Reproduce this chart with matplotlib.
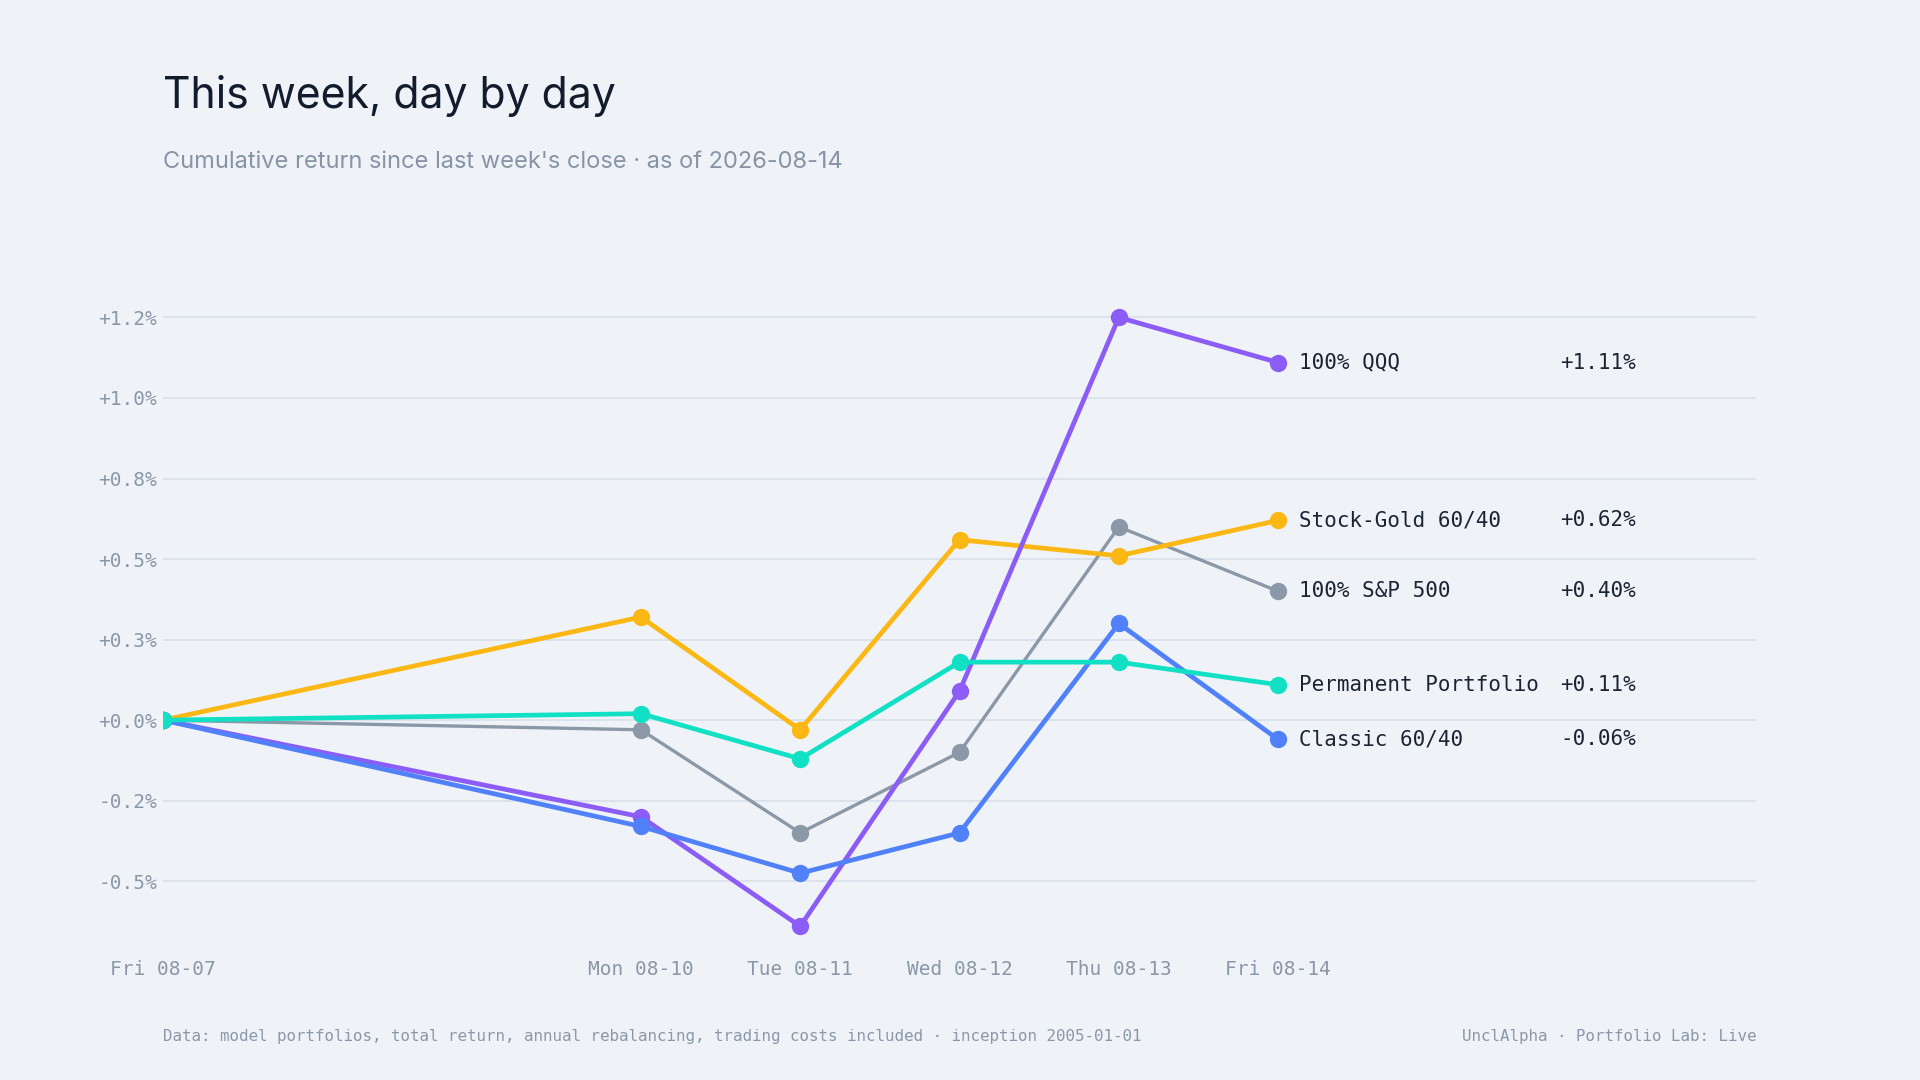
import numpy as np
import matplotlib
matplotlib.use('Agg')
import matplotlib.pyplot as plt
import matplotlib.transforms as mtransforms

# data
days = np.array(['2026-08-07', '2026-08-10', '2026-08-11', '2026-08-12', '2026-08-13', '2026-08-14'], dtype='datetime64[D]')
day_labels = ['Fri 08-07', 'Mon 08-10', 'Tue 08-11', 'Wed 08-12', 'Thu 08-13', 'Fri 08-14']

sp500 = [0.0, -0.03, -0.35, -0.10, 0.60, 0.40]
stock_gold = [0.0, 0.32, -0.03, 0.56, 0.51, 0.62]
qqq = [0.0, -0.30, -0.64, 0.09, 1.25, 1.11]
classic = [0.0, -0.33, -0.475, -0.35, 0.30, -0.06]
permanent = [0.0, 0.02, -0.12, 0.18, 0.18, 0.11]

names = ['100% S&P 500', 'Stock-Gold 60/40', '100% QQQ', 'Classic 60/40', 'Permanent Portfolio']
series = [sp500, stock_gold, qqq, classic, permanent]
colors = ['#8a98a7', '#fbb714', '#8b5cf6', '#5081f8', '#12e0c4']
widths = [2.4, 3.4, 3.4, 3.4, 3.4]

y_ticks = [-0.5, -0.25, 0.0, 0.25, 0.5, 0.75, 1.0, 1.25]
y_tick_labels = ['-0.5%', '-0.2%', '+0.0%', '+0.3%', '+0.5%', '+0.8%', '+1.0%', '+1.2%']

bg = '#eff3f8'
mono = 'DejaVu Sans Mono'

fig = plt.figure(figsize=(19.2, 10.8), dpi=100, facecolor=bg)
ax = fig.add_axes([0.0849, 0.1244, 0.8297, 0.5966])
ax.set_facecolor(bg)

for name, vals, c, lw in zip(names, series, colors, widths):
    ax.plot(days, vals, color=c, lw=lw, marker='o', markersize=12.5,
            markeredgewidth=0, solid_joinstyle='round', solid_capstyle='round')

ax.set_xlim(np.datetime64('2026-08-07'), np.datetime64('2026-08-17'))
ax.set_ylim(-0.70, 1.30)

ax.set_yticks(y_ticks)
ax.set_yticklabels(y_tick_labels)
ax.set_xticks(days)
ax.set_xticklabels(day_labels)
ax.tick_params(axis='y', length=0, pad=4.3, labelsize=14, labelcolor='#8a97a8')
ax.tick_params(axis='x', length=0, pad=10, labelsize=14, labelcolor='#8a97a8')
for lab in ax.get_xticklabels() + ax.get_yticklabels():
    lab.set_fontfamily(mono)

ax.grid(axis='y', color='#d6dde9', lw=1.1)
ax.grid(axis='x', visible=False)
ax.set_axisbelow(True)
for s in ax.spines.values():
    s.set_visible(False)

# end labels
trans = mtransforms.blended_transform_factory(ax.transAxes, ax.transData)
for name, vals, c in zip(names, series, colors):
    ax.annotate(name, xy=(days[-1], vals[-1]), xytext=(15, 0), textcoords='offset points',
                va='center', ha='left', fontsize=15, family=mono, color='#1b2433',
                annotation_clip=False)
    ax.text(0.9247, vals[-1], f'{vals[-1]:+.2f}%', transform=trans, va='center', ha='right',
            fontsize=15, family=mono, color='#1b2433')

fig.text(0.0849, 0.900, 'This week, day by day', fontsize=30.8, family='Inter',
         color='#121c2c', va='baseline', ha='left')
fig.text(0.0849, 0.8444, "Cumulative return since last week's close \u00b7 as of 2026-08-14",
         fontsize=17, family='Inter', color='#8794a5', va='baseline', ha='left')

fig.text(0.0849, 0.0407, 'Data: model portfolios, total return, annual rebalancing, trading costs included \u00b7 inception 2005-01-01',
         fontsize=11.4, family=mono, color='#8a97a8', va='center', ha='left')
fig.text(0.9146, 0.0407, 'UnclAlpha \u00b7 Portfolio Lab: Live',
         fontsize=11.4, family=mono, color='#8a97a8', va='center', ha='right')

fig.savefig('out.png', dpi=100, facecolor=bg)
